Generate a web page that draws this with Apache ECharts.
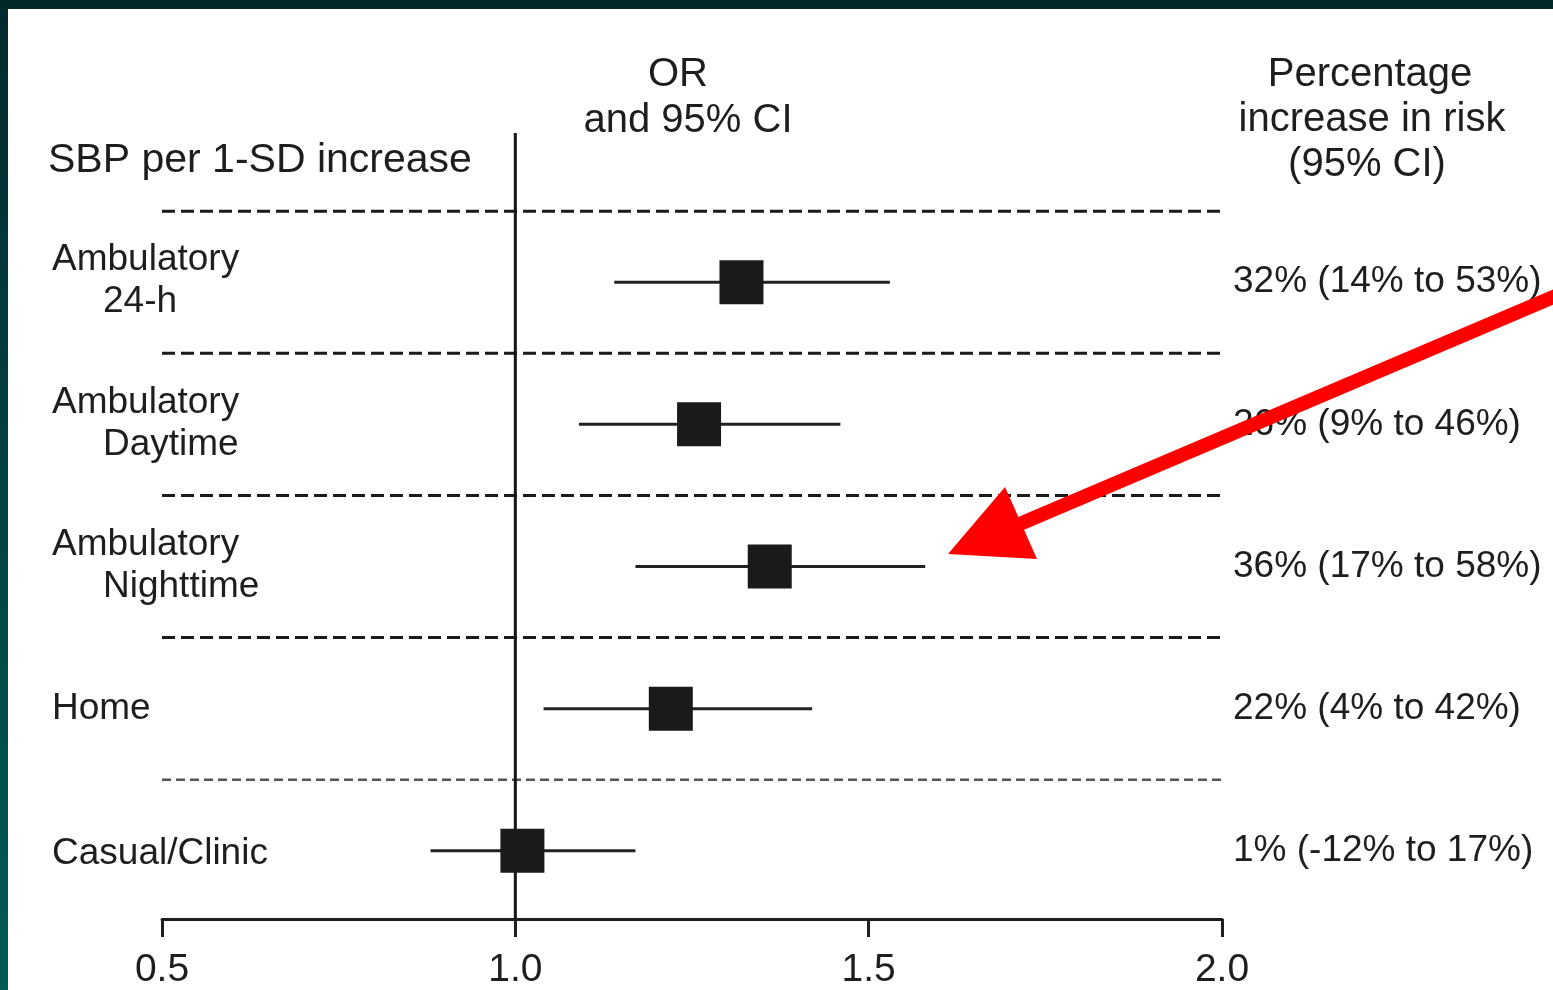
<!DOCTYPE html>
<html>
<head>
<meta charset="utf-8">
<script src="https://cdn.jsdelivr.net/npm/echarts@6/dist/echarts.min.js"></script>
<style>
html,body{margin:0;padding:0;background:#fff;}
#chart{width:1553px;height:990px;}
</style>
</head>
<body>
<div id="chart"></div>
<script>
// ---- data ----
const rowLabelLine1 = ['Ambulatory', 'Ambulatory', 'Ambulatory', 'Home', 'Casual/Clinic'];
const rowLabelLine2 = ['24-h', 'Daytime', 'Nighttime', '', ''];
const oddsRatio = [1.32, 1.26, 1.36, 1.22, 1.01];
const ciLower   = [1.14, 1.09, 1.17, 1.04, 0.88];
const ciUpper   = [1.53, 1.46, 1.58, 1.42, 1.17];
const riskText  = ['32% (14% to 53%)', '26% (9% to 46%)', '36% (17% to 58%)', '22% (4% to 42%)', '1% (-12% to 17%)'];
const separators = [-0.5, 0.5, 1.5, 2.5, 3.5];
const xTickValues = [0.5, 1.0, 1.5, 2.0];

const FONT = '"Liberation Sans", Arial, sans-serif';
const INK = '#1e1e1e';

const forestData = oddsRatio.map((v, i) => [v, i, ciLower[i], ciUpper[i]]);
const labelData = rowLabelLine1.map((t, i) => [0.5, i]);
const sepData = separators.map((s, k) => [0.5, s, k]);

const chart = echarts.init(document.getElementById('chart'), null, {renderer: 'canvas'});

const option = {
  backgroundColor: '#ffffff',
  animation: false,
  grid: {left: 162, right: 331, top: 133, bottom: 70, containLabel: false},
  xAxis: {
    type: 'value', min: 0.5, max: 2.0, interval: 0.5,
    axisLine: {show: true, onZero: false, lineStyle: {color: INK, width: 3}},
    axisTick: {show: true, inside: false, length: 18, lineStyle: {color: INK, width: 3}},
    axisLabel: {color: INK, fontSize: 39, fontFamily: FONT, margin: 32,
      formatter: v => xTickValues.includes(v) ? v.toFixed(1) : ''},
    splitLine: {show: false}
  },
  yAxis: {
    type: 'value', inverse: true, min: -1.05, max: 4.48,
    show: false, splitLine: {show: false}
  },
  series: [
    {
      type: 'line', name: 'ref', symbol: 'none', silent: true,
      data: [[1.0, -1.05], [1.0, 4.48]],
      lineStyle: {color: '#151515', width: 3}, z: 2
    },
    {
      type: 'custom', name: 'separators', silent: true, z: 1,
      data: sepData,
      renderItem: function (params, api) {
        const y = api.value(1);
        const k = api.value(2);
        const a = api.coord([0.5, y]);
        const b = api.coord([2.0, y]);
        const last = k === separators.length - 1;
        return {
          type: 'line',
          shape: {x1: a[0], y1: a[1], x2: b[0] + 3, y2: b[1]},
          style: {stroke: last ? '#555' : '#1a1a1a', lineWidth: last ? 2.5 : 3,
                  lineDash: last ? [9, 5] : [13, 6]}
        };
      }
    },
    {
      type: 'custom', name: 'forest', z: 5,
      data: forestData,
      encode: {x: 0, y: 1},
      renderItem: function (params, api) {
        const i = api.value(1);
        const c = api.coord([api.value(0), i]);
        const lo = api.coord([api.value(2), i]);
        const hi = api.coord([api.value(3), i]);
        const s = 44;
        return {
          type: 'group',
          children: [
            {type: 'line', shape: {x1: lo[0], y1: lo[1], x2: hi[0], y2: hi[1]},
             style: {stroke: '#222', lineWidth: 3}},
            {type: 'rect', shape: {x: c[0] - s / 2, y: c[1] - s / 2, width: s, height: s},
             style: {fill: '#1a1a1a'}}
          ]
        };
      }
    },
    {
      type: 'custom', name: 'labels', z: 6, silent: true,
      data: labelData,
      renderItem: function (params, api) {
        const i = params.dataIndex;
        const p = api.coord([0.5, api.value(1)]);
        const children = [];
        const two = rowLabelLine2[i] !== '';
        children.push({type: 'text', x: 52, y: two ? p[1] - 22 : p[1] + (i === 4 ? 3 : 0),
          style: {text: rowLabelLine1[i], fill: INK, font: '37px ' + FONT,
                  textAlign: 'left', textVerticalAlign: 'middle'}});
        if (two) {
          children.push({type: 'text', x: 103, y: p[1] + 20,
            style: {text: rowLabelLine2[i], fill: INK, font: '37px ' + FONT,
                    textAlign: 'left', textVerticalAlign: 'middle'}});
        }
        children.push({type: 'text', x: 1233, y: p[1],
          style: {text: riskText[i], fill: INK, font: '37px ' + FONT,
                  textAlign: 'left', textVerticalAlign: 'middle'}});
        return {type: 'group', children: children};
      }
    }
  ],
  graphic: [
    {type: 'text', left: 48, top: 140, style: {text: 'SBP per 1-SD increase', fill: INK, font: '41px ' + FONT}},
    {type: 'text', x: 678, y: 75, style: {text: 'OR', fill: INK, font: '40px ' + FONT, textAlign: 'center', textVerticalAlign: 'middle'}},
    {type: 'text', x: 688, y: 121, style: {text: 'and 95% CI', fill: INK, font: '40px ' + FONT, textAlign: 'center', textVerticalAlign: 'middle'}},
    {type: 'text', x: 1370, y: 75, style: {text: 'Percentage', fill: INK, font: '40px ' + FONT, textAlign: 'center', textVerticalAlign: 'middle'}},
    {type: 'text', x: 1372, y: 120, style: {text: 'increase in risk', fill: INK, font: '40px ' + FONT, textAlign: 'center', textVerticalAlign: 'middle'}},
    {type: 'text', x: 1367, y: 165, style: {text: '(95% CI)', fill: INK, font: '40px ' + FONT, textAlign: 'center', textVerticalAlign: 'middle'}},
    // frame
    {type: 'rect', left: 0, top: 0, z: 100, shape: {width: 8, height: 990},
     style: {fill: new echarts.graphic.LinearGradient(0, 0, 0, 1, [{offset: 0, color: '#032a2e'}, {offset: 1, color: '#005a58'}])}},
    {type: 'rect', left: 0, top: 0, z: 100, shape: {width: 1553, height: 9}, style: {fill: '#02292a'}},
    // red arrow annotation
    {type: 'line', z: 90, shape: {x1: 1565, y1: 292, x2: 1015, y2: 526},
     style: {stroke: '#ff0000', lineWidth: 14}},
    {type: 'polygon', z: 91, shape: {points: [[948, 554], [1005, 487], [1037, 559]]},
     style: {fill: '#ff0000'}}
  ]
};
chart.setOption(option);
</script>
</body>
</html>
